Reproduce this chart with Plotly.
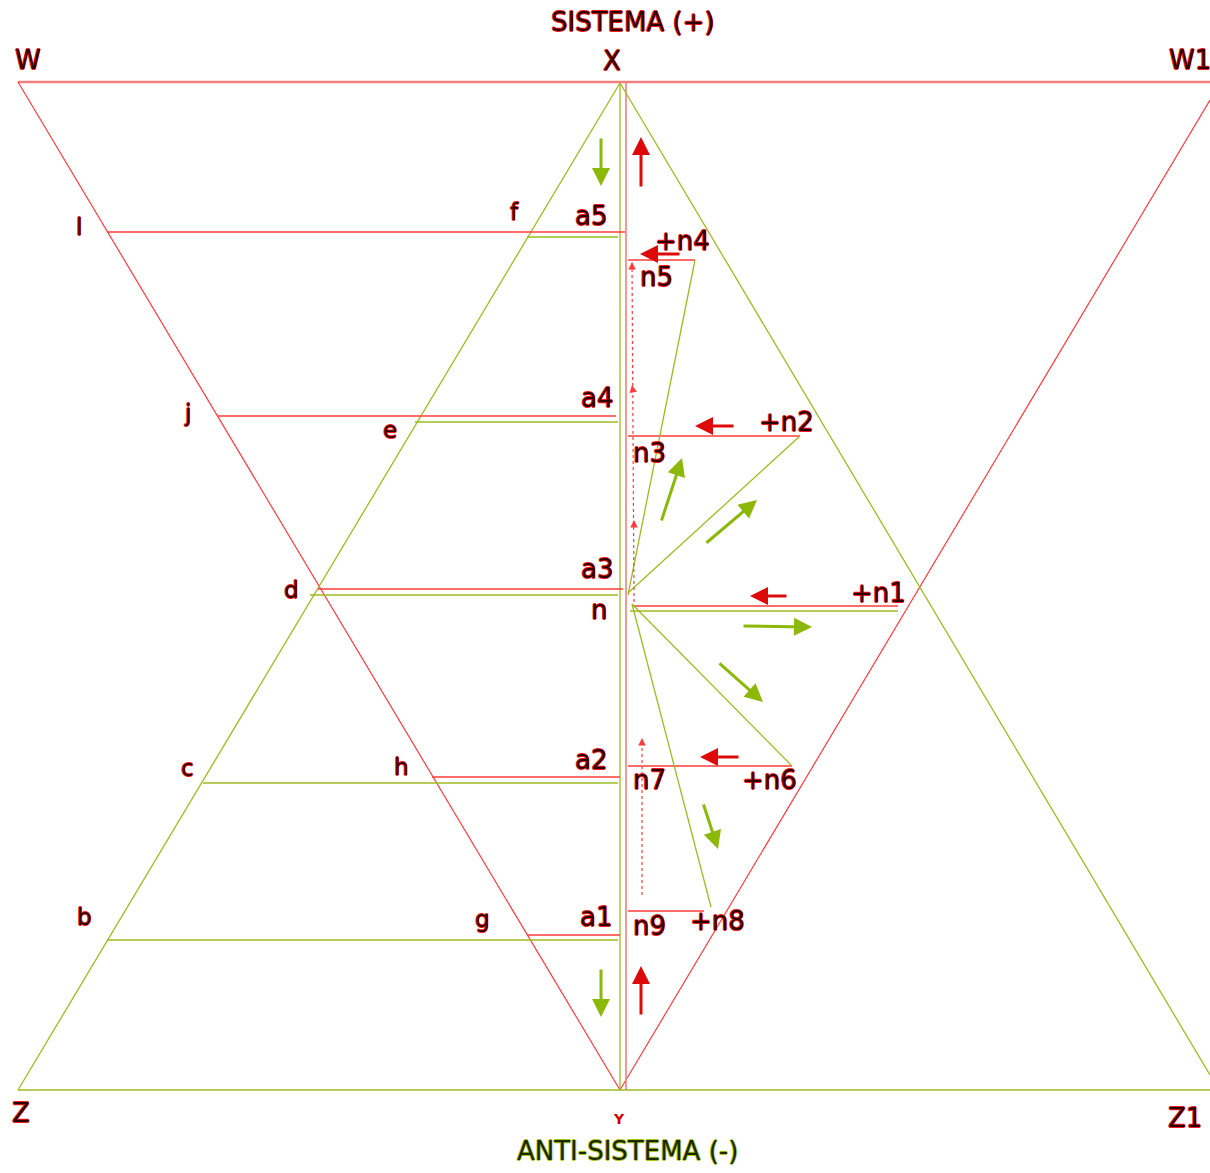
import plotly.graph_objects as go

W, H = 1210, 1173

# ---- diagram geometry (pixel-space coordinates) ----
# long frame lines: [x0, y0, x1, y1]
red_frame = [[18, 82, 1210, 82], [18, 82, 620, 1090], [620, 1090, 1210, 100],
             [626, 83, 626, 1090]]
green_frame = [[18, 1090, 1210, 1090], [18, 1090, 620, 83], [620, 83, 1210, 1075],
               [620, 83, 620, 1090]]

# left horizontals
red_left = [[107, 232, 625, 232], [218, 416, 616, 416], [318, 589, 623, 589],
            [432, 777, 620, 777], [527, 935, 620, 935]]
green_left = [[527, 237, 618, 237], [415, 422, 618, 422], [310, 595, 618, 595],
              [203, 783, 618, 783], [107, 940, 618, 940]]

# right side
red_right = [[628, 260, 695, 260], [628, 436, 800, 436], [632, 606, 898, 606],
             [628, 766, 792, 766], [628, 911, 704, 911]]
green_right = [[695, 260, 628, 595], [800, 436, 628, 593], [630, 611, 898, 611],
               [632, 604, 792, 766], [632, 604, 711, 907]]

# dotted red paths
red_dotted = [[634, 602, 632, 262], [642, 895, 642, 740]]
dotted_heads = [[632, 268, 632, 262], [633, 391, 632, 385], [634, 526, 634, 520],
                [642, 746, 642, 738]]

# arrows: [tail_x, tail_y, head_x, head_y]
green_arrows = [[601, 137, 601, 186], [601, 968, 601, 1017], [661, 522, 682, 458],
                [705, 544, 757, 500], [742, 626, 812, 627], [718, 662, 763, 702],
                [703, 803, 718, 849]]
red_arrows = [[641, 188, 641, 137], [641, 1016, 641, 966], [681, 254, 640, 254],
              [735, 426, 695, 426], [788, 596, 750, 596], [740, 757, 700, 757]]

# labels: text, x, y
labels_big = [("W", 28, 60), ("X", 612, 61), ("W1", 1190, 60),
              ("a5", 591, 216), ("+n4", 682, 241), ("n5", 656, 277),
              ("a4", 597, 398), ("+n2", 786, 422), ("n3", 649, 453),
              ("a3", 597, 569), ("n", 599, 610), ("+n1", 878, 593),
              ("a2", 591, 760), ("n7", 649, 780), ("+n6", 769, 780),
              ("a1", 596, 917), ("n9", 649, 926), ("+n8", 717, 921),
              ("Z", 21, 1113), ("Z1", 1185, 1118)]
labels_small = [("f", 514, 212), ("l", 79, 227), ("j", 187, 413), ("e", 390, 430),
                ("d", 291, 590), ("c", 187, 768), ("h", 401, 767),
                ("b", 84, 917), ("g", 482, 919)]
title_top = ("SISTEMA (+)", 633, 22)
title_bottom = ("ANTI-SISTEMA (-)", 627, 1151)
y_label = ("Y", 619, 1119)

RED = "#ff3b3b"
RED_LIGHT = "#f27f7f"
GREEN = "#9cbd1e"
RED_ARROW = "#dd0a0a"
GREEN_ARROW = "#8cb80a"


def seg_trace(segs, color, width, dash="solid"):
    xs, ys = [], []
    for x0, y0, x1, y1 in segs:
        xs += [x0, x1, None]
        ys += [y0, y1, None]
    return go.Scatter(x=xs, y=ys, mode="lines", hoverinfo="skip", showlegend=False,
                      line=dict(color=color, width=width, dash=dash))


fig = go.Figure()
fig.add_trace(seg_trace(red_frame[:1], RED_LIGHT, 2.5))
fig.add_trace(seg_trace(red_frame[1:3], RED, 1.2))
fig.add_trace(seg_trace(red_frame[3:], RED_LIGHT, 1.6))
fig.add_trace(seg_trace(green_frame, GREEN, 1.3))
fig.add_trace(seg_trace(red_left, RED, 1.4))
fig.add_trace(seg_trace(green_left, GREEN, 1.6))
fig.add_trace(seg_trace(red_right, RED, 1.4))
fig.add_trace(seg_trace(green_right, GREEN, 1.3))
fig.add_trace(seg_trace(red_dotted, RED, 1.2, dash="dot"))

ann = []
for tx, ty, hx, hy in green_arrows:
    ann.append(dict(x=hx, y=hy, ax=tx, ay=ty, xref="x", yref="y", axref="x", ayref="y",
                    showarrow=True, arrowhead=2, arrowsize=1.2, arrowwidth=3,
                    arrowcolor=GREEN_ARROW, text=""))
for tx, ty, hx, hy in red_arrows:
    ann.append(dict(x=hx, y=hy, ax=tx, ay=ty, xref="x", yref="y", axref="x", ayref="y",
                    showarrow=True, arrowhead=2, arrowsize=1.2, arrowwidth=3,
                    arrowcolor=RED_ARROW, text=""))
for tx, ty, hx, hy in dotted_heads:
    ann.append(dict(x=hx, y=hy, ax=tx, ay=ty, xref="x", yref="y", axref="x", ayref="y",
                    showarrow=True, arrowhead=2, arrowsize=1.5, arrowwidth=1,
                    arrowcolor=RED, text=""))

red_shadow = ("0.8px 0 0 #ff1a1a, -0.8px 0 0 #ff1a1a, 0 0.8px 0 #ff1a1a, "
              "0 -0.8px 0 #ff1a1a")
green_shadow = ("0.8px 0 0 #a4cc14, -0.8px 0 0 #a4cc14, 0 0.8px 0 #a4cc14, "
                "0 -0.8px 0 #a4cc14")
FONT = "DejaVu Sans, Verdana, sans-serif"
DARK = "#2a0000"

for t, x, y in labels_big:
    ann.append(dict(x=x, y=y, text=t, showarrow=False, xref="x", yref="y",
                    font=dict(family=FONT, size=26, color=DARK, shadow=red_shadow)))
for t, x, y in labels_small:
    ann.append(dict(x=x, y=y, text=t, showarrow=False, xref="x", yref="y",
                    font=dict(family=FONT, size=23, color=DARK, shadow=red_shadow)))
t, x, y = title_top
ann.append(dict(x=x, y=y, text=t, showarrow=False, xref="x", yref="y",
                font=dict(family=FONT, size=26, color=DARK, shadow=red_shadow)))
t, x, y = title_bottom
ann.append(dict(x=x, y=y, text=t, showarrow=False, xref="x", yref="y",
                font=dict(family=FONT, size=26, color="#1e2600", shadow=green_shadow)))
t, x, y = y_label
ann.append(dict(x=x, y=y, text="<b>" + t + "</b>", showarrow=False, xref="x", yref="y",
                font=dict(family=FONT, size=14, color="#d40000")))

fig.update_layout(
    width=W, height=H, margin=dict(l=0, r=0, t=0, b=0),
    paper_bgcolor="white", plot_bgcolor="white",
    xaxis=dict(range=[0, W], visible=False, fixedrange=True),
    yaxis=dict(range=[H, 0], visible=False, fixedrange=True),
    annotations=ann,
)

fig.write_html("out.html", config={"displayModeBar": False},
               post_script="document.body.style.margin='0';")
